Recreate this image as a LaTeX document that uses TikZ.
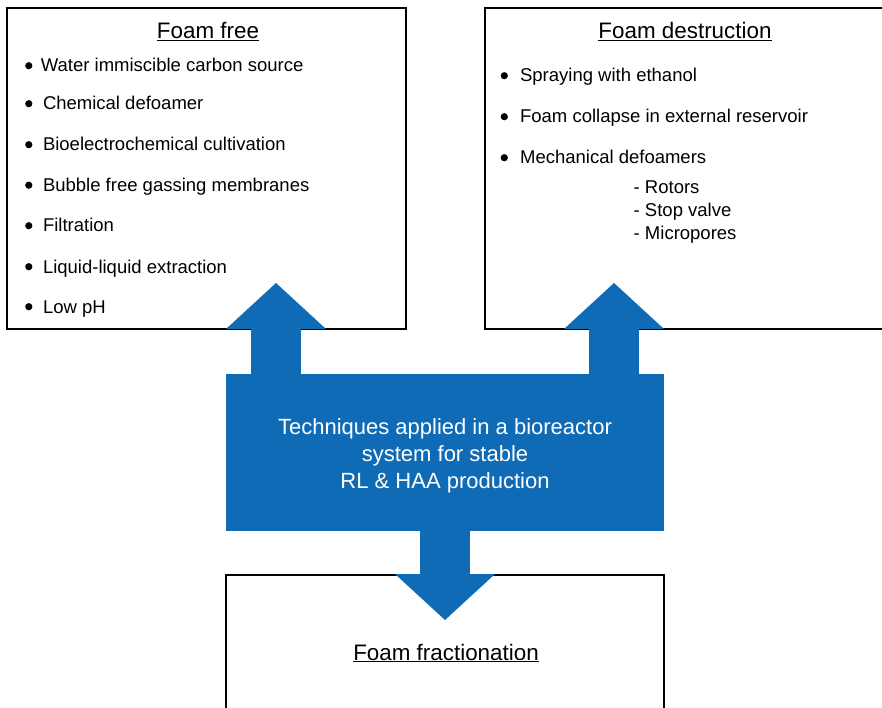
\documentclass[tikz,border=0pt]{standalone}
\usepackage{fontspec}
\setmainfont{Liberation Sans}
\usetikzlibrary{arrows.meta}
\definecolor{flowblue}{HTML}{0F6BB5}

% list bullet: a filled dot sitting on the x-height, then a gap
\newcommand{\bul}[1][10.6pt]{\tikz[baseline=-6.3pt]\fill (0,0) circle (3.6pt);\hspace{#1}}

\begin{document}
\begin{tikzpicture}[
    x=1pt, y=1pt,
    font=\fontsize{18.5pt}{22pt}\selectfont,
    panel/.style={rectangle, draw=black, line width=1.3pt, inner sep=0pt},
    corebox/.style={rectangle, fill=flowblue, text=white, inner sep=0pt, minimum width=438pt, minimum height=157pt, align=center, font=\fontsize{22pt}{27pt}\selectfont},
    head/.style={anchor=base, inner sep=0pt, font=\fontsize{22.4pt}{27pt}\selectfont},
    item/.style={anchor=base west, inner sep=0pt},
    flow/.style={draw=flowblue, line width=50pt, -{Triangle[width=100pt, length=46pt, line width=0pt]}}
]
\useasboundingbox (0,0) rectangle (882,-708);
\fill[white] (0,0) rectangle (882,-708);

% ==================== PANELS ====================
\node[panel, minimum width=399pt, minimum height=321pt] (foamfree) at (206.5,-168.5) {};
\node[panel, minimum width=400pt, minimum height=321pt] (destruction) at (685,-168.5) {};
\node[panel, minimum width=438pt, minimum height=140pt] (fractionation) at (445,-645) {};

\node[head] (freetitle) at (208,-39) {\underline{Foam free}};
\node[head] (destrtitle) at (685,-39) {\underline{Foam destruction}};
\node[head] (fractitle) at (446,-660) {\underline{Foam fractionation}};

% ==================== FOAM FREE ====================
\node[item] (free1) at (25,-72) {\bul[8.5pt]Water immiscible carbon source};
\node[item] (free2) at (25,-110) {\bul Chemical defoamer};
\node[item] (free3) at (25,-151) {\bul Bioelectrochemical cultivation};
\node[item] (free4) at (25,-191.5) {\bul Bubble free gassing membranes};
\node[item] (free5) at (25,-232) {\bul Filtration};
\node[item] (free6) at (25,-273) {\bul Liquid-liquid extraction};
\node[item] (free7) at (25,-313) {\bul Low pH};

% ==================== FOAM DESTRUCTION ====================
\node[item] (destr1) at (500.5,-82) {\bul[12.2pt]Spraying with ethanol};
\node[item] (destr2) at (500.5,-123) {\bul[12.2pt]Foam collapse in external reservoir};
\node[item] (destr3) at (500.5,-164) {\bul[12.2pt]Mechanical defoamers};
\node[item] (rotors) at (633.5,-193.5) {- Rotors};
\node[item] (valve) at (633.5,-216.5) {- Stop valve};
\node[item] (pores) at (633.5,-239.5) {- Micropores};

% ==================== BIOREACTOR ====================
% strut on the first line pushes the three lines a little lower
\node[corebox] (techniques) at (445,-452.5) {\rule{0pt}{22pt}Techniques applied in a bioreactor\\system for stable\\RL \& HAA production};

% ==================== ARROWS ====================
\coordinate (freetip) at (276,-283);
\coordinate (destrtip) at (614,-283);
\coordinate (fractip) at (445,-620);

\draw[flow] (techniques.north -| freetip) -- (freetip);
\draw[flow] (techniques.north -| destrtip) -- (destrtip);
\draw[flow] (techniques.south) -- (fractip);

\end{tikzpicture}
\end{document}
